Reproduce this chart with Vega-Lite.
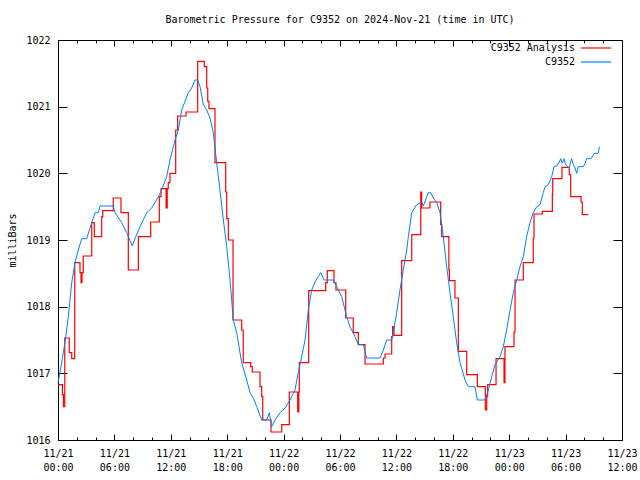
{
  "$schema": "https://vega.github.io/schema/vega-lite/v6.json",
  "width": 564,
  "height": 400,
  "autosize": {"type": "none"},
  "padding": {"left": 58, "top": 40, "right": 18, "bottom": 40},
  "background": "white",
  "title": {"text": "Barometric Pressure for C9352 on 2024-Nov-21 (time in UTC)", "font": "DejaVu Sans Mono", "fontSize": 10, "fontWeight": "normal", "anchor": "middle", "offset": 10, "color": "black"},
  "config": {
    "view": {"stroke": "black", "strokeWidth": 1},
    "axis": {"grid": false, "domain": false, "labelFont": "DejaVu Sans Mono", "labelFontSize": 10, "labelColor": "black", "tickColor": "black", "titleFont": "DejaVu Sans Mono", "titleFontSize": 10, "titleFontWeight": "normal", "titleColor": "black"}
  },
  "datasets": {
    "analysis": [
      {"t": 0, "p": 1016.83, "s": "C9352 Analysis"},
      {"t": 0.47, "p": 1016.68, "s": "C9352 Analysis"},
      {"t": 0.58, "p": 1016.5, "s": "C9352 Analysis"},
      {"t": 0.72, "p": 1017.53, "s": "C9352 Analysis"},
      {"t": 1.2, "p": 1017.31, "s": "C9352 Analysis"},
      {"t": 1.46, "p": 1017.22, "s": "C9352 Analysis"},
      {"t": 1.78, "p": 1018.66, "s": "C9352 Analysis"},
      {"t": 2.34, "p": 1018.51, "s": "C9352 Analysis"},
      {"t": 2.45, "p": 1018.36, "s": "C9352 Analysis"},
      {"t": 2.55, "p": 1018.51, "s": "C9352 Analysis"},
      {"t": 2.69, "p": 1018.76, "s": "C9352 Analysis"},
      {"t": 3.59, "p": 1019.26, "s": "C9352 Analysis"},
      {"t": 3.86, "p": 1019.05, "s": "C9352 Analysis"},
      {"t": 4.65, "p": 1019.35, "s": "C9352 Analysis"},
      {"t": 4.76, "p": 1019.44, "s": "C9352 Analysis"},
      {"t": 5.88, "p": 1019.63, "s": "C9352 Analysis"},
      {"t": 6.7, "p": 1019.41, "s": "C9352 Analysis"},
      {"t": 7.48, "p": 1018.55, "s": "C9352 Analysis"},
      {"t": 8.55, "p": 1019.05, "s": "C9352 Analysis"},
      {"t": 9.86, "p": 1019.27, "s": "C9352 Analysis"},
      {"t": 10.78, "p": 1019.65, "s": "C9352 Analysis"},
      {"t": 10.96, "p": 1019.77, "s": "C9352 Analysis"},
      {"t": 11.5, "p": 1019.48, "s": "C9352 Analysis"},
      {"t": 11.62, "p": 1019.77, "s": "C9352 Analysis"},
      {"t": 11.73, "p": 1019.86, "s": "C9352 Analysis"},
      {"t": 11.91, "p": 1020.0, "s": "C9352 Analysis"},
      {"t": 12.52, "p": 1020.65, "s": "C9352 Analysis"},
      {"t": 12.73, "p": 1020.86, "s": "C9352 Analysis"},
      {"t": 13.62, "p": 1020.92, "s": "C9352 Analysis"},
      {"t": 14.86, "p": 1021.68, "s": "C9352 Analysis"},
      {"t": 15.56, "p": 1021.6, "s": "C9352 Analysis"},
      {"t": 15.82, "p": 1021.28, "s": "C9352 Analysis"},
      {"t": 15.93, "p": 1021.08, "s": "C9352 Analysis"},
      {"t": 16.06, "p": 1020.97, "s": "C9352 Analysis"},
      {"t": 16.7, "p": 1020.16, "s": "C9352 Analysis"},
      {"t": 17.84, "p": 1019.72, "s": "C9352 Analysis"},
      {"t": 17.95, "p": 1019.32, "s": "C9352 Analysis"},
      {"t": 18.12, "p": 1019.0, "s": "C9352 Analysis"},
      {"t": 18.62, "p": 1017.8, "s": "C9352 Analysis"},
      {"t": 19.54, "p": 1017.65, "s": "C9352 Analysis"},
      {"t": 19.71, "p": 1017.16, "s": "C9352 Analysis"},
      {"t": 20.5, "p": 1017.1, "s": "C9352 Analysis"},
      {"t": 20.67, "p": 1017.02, "s": "C9352 Analysis"},
      {"t": 21.49, "p": 1016.8, "s": "C9352 Analysis"},
      {"t": 21.67, "p": 1016.65, "s": "C9352 Analysis"},
      {"t": 21.78, "p": 1016.3, "s": "C9352 Analysis"},
      {"t": 22.66, "p": 1016.12, "s": "C9352 Analysis"},
      {"t": 23.8, "p": 1016.23, "s": "C9352 Analysis"},
      {"t": 24.61, "p": 1016.72, "s": "C9352 Analysis"},
      {"t": 25.5, "p": 1016.42, "s": "C9352 Analysis"},
      {"t": 25.62, "p": 1016.72, "s": "C9352 Analysis"},
      {"t": 25.67, "p": 1017.16, "s": "C9352 Analysis"},
      {"t": 26.67, "p": 1018.24, "s": "C9352 Analysis"},
      {"t": 28.48, "p": 1018.36, "s": "C9352 Analysis"},
      {"t": 28.65, "p": 1018.54, "s": "C9352 Analysis"},
      {"t": 29.36, "p": 1018.36, "s": "C9352 Analysis"},
      {"t": 29.57, "p": 1018.25, "s": "C9352 Analysis"},
      {"t": 30.61, "p": 1017.83, "s": "C9352 Analysis"},
      {"t": 31.41, "p": 1017.61, "s": "C9352 Analysis"},
      {"t": 31.95, "p": 1017.43, "s": "C9352 Analysis"},
      {"t": 32.66, "p": 1017.14, "s": "C9352 Analysis"},
      {"t": 34.61, "p": 1017.23, "s": "C9352 Analysis"},
      {"t": 34.79, "p": 1017.29, "s": "C9352 Analysis"},
      {"t": 35.5, "p": 1017.55, "s": "C9352 Analysis"},
      {"t": 35.6, "p": 1017.7, "s": "C9352 Analysis"},
      {"t": 35.74, "p": 1017.57, "s": "C9352 Analysis"},
      {"t": 36.56, "p": 1018.69, "s": "C9352 Analysis"},
      {"t": 37.63, "p": 1019.08, "s": "C9352 Analysis"},
      {"t": 38.59, "p": 1019.72, "s": "C9352 Analysis"},
      {"t": 38.69, "p": 1019.48, "s": "C9352 Analysis"},
      {"t": 39.57, "p": 1019.57, "s": "C9352 Analysis"},
      {"t": 40.71, "p": 1019.23, "s": "C9352 Analysis"},
      {"t": 40.82, "p": 1019.05, "s": "C9352 Analysis"},
      {"t": 41.58, "p": 1018.55, "s": "C9352 Analysis"},
      {"t": 41.64, "p": 1018.39, "s": "C9352 Analysis"},
      {"t": 42.23, "p": 1018.13, "s": "C9352 Analysis"},
      {"t": 42.59, "p": 1017.33, "s": "C9352 Analysis"},
      {"t": 43.48, "p": 1016.98, "s": "C9352 Analysis"},
      {"t": 44.61, "p": 1016.8, "s": "C9352 Analysis"},
      {"t": 45.46, "p": 1016.45, "s": "C9352 Analysis"},
      {"t": 45.61, "p": 1016.65, "s": "C9352 Analysis"},
      {"t": 45.71, "p": 1016.83, "s": "C9352 Analysis"},
      {"t": 46.6, "p": 1017.22, "s": "C9352 Analysis"},
      {"t": 47.45, "p": 1016.86, "s": "C9352 Analysis"},
      {"t": 47.55, "p": 1017.4, "s": "C9352 Analysis"},
      {"t": 48.51, "p": 1017.62, "s": "C9352 Analysis"},
      {"t": 48.62, "p": 1018.4, "s": "C9352 Analysis"},
      {"t": 49.5, "p": 1018.66, "s": "C9352 Analysis"},
      {"t": 50.56, "p": 1019.03, "s": "C9352 Analysis"},
      {"t": 50.64, "p": 1019.39, "s": "C9352 Analysis"},
      {"t": 51.52, "p": 1019.43, "s": "C9352 Analysis"},
      {"t": 52.59, "p": 1019.68, "s": "C9352 Analysis"},
      {"t": 52.63, "p": 1019.92, "s": "C9352 Analysis"},
      {"t": 53.62, "p": 1020.09, "s": "C9352 Analysis"},
      {"t": 54.39, "p": 1019.98, "s": "C9352 Analysis"},
      {"t": 54.54, "p": 1019.65, "s": "C9352 Analysis"},
      {"t": 55.64, "p": 1019.57, "s": "C9352 Analysis"},
      {"t": 55.78, "p": 1019.38, "s": "C9352 Analysis"},
      {"t": 56.41, "p": 1019.38, "s": "C9352 Analysis"}
    ],
    "obs": [
      {"t": 0, "p": 1016.86, "s": "C9352"},
      {"t": 0.39, "p": 1017.16, "s": "C9352"},
      {"t": 0.74, "p": 1017.46, "s": "C9352"},
      {"t": 1.1, "p": 1017.85, "s": "C9352"},
      {"t": 1.46, "p": 1018.36, "s": "C9352"},
      {"t": 1.81, "p": 1018.66, "s": "C9352"},
      {"t": 2.16, "p": 1018.85, "s": "C9352"},
      {"t": 2.52, "p": 1019.02, "s": "C9352"},
      {"t": 3.05, "p": 1019.02, "s": "C9352"},
      {"t": 3.59, "p": 1019.26, "s": "C9352"},
      {"t": 3.94, "p": 1019.41, "s": "C9352"},
      {"t": 4.29, "p": 1019.41, "s": "C9352"},
      {"t": 4.47, "p": 1019.51, "s": "C9352"},
      {"t": 5.88, "p": 1019.51, "s": "C9352"},
      {"t": 6.06, "p": 1019.41, "s": "C9352"},
      {"t": 6.78, "p": 1019.26, "s": "C9352"},
      {"t": 7.31, "p": 1019.11, "s": "C9352"},
      {"t": 7.9, "p": 1018.91, "s": "C9352"},
      {"t": 8.19, "p": 1019.02, "s": "C9352"},
      {"t": 8.72, "p": 1019.2, "s": "C9352"},
      {"t": 9.44, "p": 1019.41, "s": "C9352"},
      {"t": 9.97, "p": 1019.48, "s": "C9352"},
      {"t": 10.32, "p": 1019.56, "s": "C9352"},
      {"t": 10.67, "p": 1019.65, "s": "C9352"},
      {"t": 11.03, "p": 1019.75, "s": "C9352"},
      {"t": 11.56, "p": 1019.95, "s": "C9352"},
      {"t": 11.91, "p": 1020.2, "s": "C9352"},
      {"t": 12.45, "p": 1020.5, "s": "C9352"},
      {"t": 12.8, "p": 1020.65, "s": "C9352"},
      {"t": 13.16, "p": 1020.95, "s": "C9352"},
      {"t": 13.51, "p": 1021.08, "s": "C9352"},
      {"t": 13.86, "p": 1021.21, "s": "C9352"},
      {"t": 14.22, "p": 1021.28, "s": "C9352"},
      {"t": 14.57, "p": 1021.4, "s": "C9352"},
      {"t": 14.86, "p": 1021.4, "s": "C9352"},
      {"t": 15.11, "p": 1021.3, "s": "C9352"},
      {"t": 15.46, "p": 1021.03, "s": "C9352"},
      {"t": 15.82, "p": 1020.95, "s": "C9352"},
      {"t": 16.17, "p": 1020.83, "s": "C9352"},
      {"t": 16.52, "p": 1020.61, "s": "C9352"},
      {"t": 16.88, "p": 1020.16, "s": "C9352"},
      {"t": 17.23, "p": 1019.75, "s": "C9352"},
      {"t": 17.59, "p": 1019.3, "s": "C9352"},
      {"t": 17.95, "p": 1018.9, "s": "C9352"},
      {"t": 18.3, "p": 1018.4, "s": "C9352"},
      {"t": 18.65, "p": 1017.8, "s": "C9352"},
      {"t": 19.01, "p": 1017.61, "s": "C9352"},
      {"t": 19.54, "p": 1017.16, "s": "C9352"},
      {"t": 20.07, "p": 1016.9, "s": "C9352"},
      {"t": 20.43, "p": 1016.71, "s": "C9352"},
      {"t": 20.78, "p": 1016.63, "s": "C9352"},
      {"t": 21.14, "p": 1016.5, "s": "C9352"},
      {"t": 21.67, "p": 1016.3, "s": "C9352"},
      {"t": 22.2, "p": 1016.3, "s": "C9352"},
      {"t": 22.48, "p": 1016.41, "s": "C9352"},
      {"t": 22.73, "p": 1016.2, "s": "C9352"},
      {"t": 23.09, "p": 1016.3, "s": "C9352"},
      {"t": 23.62, "p": 1016.41, "s": "C9352"},
      {"t": 24.15, "p": 1016.48, "s": "C9352"},
      {"t": 24.68, "p": 1016.6, "s": "C9352"},
      {"t": 25.21, "p": 1016.75, "s": "C9352"},
      {"t": 25.56, "p": 1017.01, "s": "C9352"},
      {"t": 25.93, "p": 1017.25, "s": "C9352"},
      {"t": 26.28, "p": 1017.5, "s": "C9352"},
      {"t": 26.63, "p": 1017.95, "s": "C9352"},
      {"t": 26.99, "p": 1018.25, "s": "C9352"},
      {"t": 27.34, "p": 1018.37, "s": "C9352"},
      {"t": 27.69, "p": 1018.45, "s": "C9352"},
      {"t": 27.95, "p": 1018.51, "s": "C9352"},
      {"t": 28.3, "p": 1018.4, "s": "C9352"},
      {"t": 29.29, "p": 1018.4, "s": "C9352"},
      {"t": 29.65, "p": 1018.3, "s": "C9352"},
      {"t": 30.18, "p": 1018.15, "s": "C9352"},
      {"t": 30.71, "p": 1017.85, "s": "C9352"},
      {"t": 31.06, "p": 1017.7, "s": "C9352"},
      {"t": 31.6, "p": 1017.55, "s": "C9352"},
      {"t": 31.95, "p": 1017.43, "s": "C9352"},
      {"t": 32.48, "p": 1017.43, "s": "C9352"},
      {"t": 32.84, "p": 1017.23, "s": "C9352"},
      {"t": 34.26, "p": 1017.23, "s": "C9352"},
      {"t": 34.61, "p": 1017.35, "s": "C9352"},
      {"t": 34.97, "p": 1017.5, "s": "C9352"},
      {"t": 35.5, "p": 1017.5, "s": "C9352"},
      {"t": 35.67, "p": 1017.61, "s": "C9352"},
      {"t": 36.03, "p": 1017.91, "s": "C9352"},
      {"t": 36.38, "p": 1018.25, "s": "C9352"},
      {"t": 36.73, "p": 1018.55, "s": "C9352"},
      {"t": 37.1, "p": 1018.85, "s": "C9352"},
      {"t": 37.27, "p": 1019.05, "s": "C9352"},
      {"t": 37.63, "p": 1019.41, "s": "C9352"},
      {"t": 38.16, "p": 1019.53, "s": "C9352"},
      {"t": 38.69, "p": 1019.57, "s": "C9352"},
      {"t": 38.86, "p": 1019.51, "s": "C9352"},
      {"t": 39.39, "p": 1019.71, "s": "C9352"},
      {"t": 39.65, "p": 1019.71, "s": "C9352"},
      {"t": 39.93, "p": 1019.63, "s": "C9352"},
      {"t": 40.29, "p": 1019.56, "s": "C9352"},
      {"t": 40.64, "p": 1019.41, "s": "C9352"},
      {"t": 40.99, "p": 1019.05, "s": "C9352"},
      {"t": 41.35, "p": 1018.6, "s": "C9352"},
      {"t": 41.7, "p": 1018.21, "s": "C9352"},
      {"t": 42.05, "p": 1017.85, "s": "C9352"},
      {"t": 42.41, "p": 1017.46, "s": "C9352"},
      {"t": 42.77, "p": 1017.16, "s": "C9352"},
      {"t": 43.3, "p": 1016.9, "s": "C9352"},
      {"t": 43.65, "p": 1016.8, "s": "C9352"},
      {"t": 44.36, "p": 1016.8, "s": "C9352"},
      {"t": 44.61, "p": 1016.6, "s": "C9352"},
      {"t": 45.43, "p": 1016.6, "s": "C9352"},
      {"t": 45.78, "p": 1016.75, "s": "C9352"},
      {"t": 46.14, "p": 1016.95, "s": "C9352"},
      {"t": 46.49, "p": 1017.13, "s": "C9352"},
      {"t": 47.02, "p": 1017.25, "s": "C9352"},
      {"t": 47.37, "p": 1017.4, "s": "C9352"},
      {"t": 47.73, "p": 1017.65, "s": "C9352"},
      {"t": 48.09, "p": 1017.95, "s": "C9352"},
      {"t": 48.44, "p": 1018.21, "s": "C9352"},
      {"t": 48.8, "p": 1018.4, "s": "C9352"},
      {"t": 49.15, "p": 1018.6, "s": "C9352"},
      {"t": 49.5, "p": 1018.75, "s": "C9352"},
      {"t": 49.86, "p": 1019.05, "s": "C9352"},
      {"t": 50.21, "p": 1019.26, "s": "C9352"},
      {"t": 50.56, "p": 1019.41, "s": "C9352"},
      {"t": 50.93, "p": 1019.5, "s": "C9352"},
      {"t": 51.28, "p": 1019.53, "s": "C9352"},
      {"t": 51.63, "p": 1019.71, "s": "C9352"},
      {"t": 51.81, "p": 1019.8, "s": "C9352"},
      {"t": 52.16, "p": 1019.83, "s": "C9352"},
      {"t": 52.52, "p": 1019.95, "s": "C9352"},
      {"t": 52.77, "p": 1020.1, "s": "C9352"},
      {"t": 53.05, "p": 1020.11, "s": "C9352"},
      {"t": 53.33, "p": 1020.17, "s": "C9352"},
      {"t": 53.48, "p": 1020.22, "s": "C9352"},
      {"t": 53.65, "p": 1020.15, "s": "C9352"},
      {"t": 53.83, "p": 1020.22, "s": "C9352"},
      {"t": 54.01, "p": 1020.13, "s": "C9352"},
      {"t": 54.39, "p": 1020.08, "s": "C9352"},
      {"t": 54.54, "p": 1020.17, "s": "C9352"},
      {"t": 54.65, "p": 1020.22, "s": "C9352"},
      {"t": 54.82, "p": 1020.13, "s": "C9352"},
      {"t": 55.0, "p": 1020.08, "s": "C9352"},
      {"t": 55.18, "p": 1020.0, "s": "C9352"},
      {"t": 55.35, "p": 1020.1, "s": "C9352"},
      {"t": 55.88, "p": 1020.1, "s": "C9352"},
      {"t": 56.06, "p": 1020.15, "s": "C9352"},
      {"t": 56.24, "p": 1020.22, "s": "C9352"},
      {"t": 56.7, "p": 1020.22, "s": "C9352"},
      {"t": 56.88, "p": 1020.26, "s": "C9352"},
      {"t": 57.05, "p": 1020.3, "s": "C9352"},
      {"t": 57.48, "p": 1020.3, "s": "C9352"},
      {"t": 57.59, "p": 1020.4, "s": "C9352"}
    ]
  },
  "layer": [
    {
      "data": {"name": "analysis"},
      "mark": {"type": "line", "interpolate": "step-after", "strokeWidth": 1.2},
      "encoding": {
        "x": {"field": "t", "type": "quantitative", "scale": {"domain": [0, 60], "nice": false, "zero": false},
          "axis": {"orient": "bottom", "title": null, "values": [0,2,4,6,8,10,12,14,16,18,20,22,24,26,28,30,32,34,36,38,40,42,44,46,48,50,52,54,56,58,60],
            "tickSize": {"condition": {"test": "datum.value % 6 == 0", "value": -6}, "value": -3},
            "labelPadding": 14,
            "labelExpr": "datum.value % 6 == 0 ? ['11/' + (21 + floor(datum.value / 24)), ((datum.value % 24) < 10 ? '0' : '') + (datum.value % 24) + ':00'] : ''",
            "labelLineHeight": 14, "labelAlign": "center", "labelFlush": false, "labelOverlap": false}},
        "y": {"field": "p", "type": "quantitative", "scale": {"domain": [1016, 1022], "nice": false, "zero": false},
          "axis": {"orient": "left", "title": "milliBars", "values": [1016,1017,1018,1019,1020,1021,1022], "tickSize": -9, "labelPadding": 17, "titlePadding": 8, "format": "d"}},
        "color": {"field": "s", "type": "nominal", "scale": {"domain": ["C9352 Analysis", "C9352"], "range": ["#ff0000", "#0080ff"]},
          "legend": {"orient": "none", "legendX": 532, "legendY": 2, "title": null, "symbolType": "M-3,0H3", "symbolSize": 100, "symbolStrokeWidth": 1.2, "labelAlign": "right", "labelOffset": -27, "labelFont": "DejaVu Sans Mono", "labelFontSize": 10, "labelColor": "black", "rowPadding": 3, "padding": 0}}
      }
    },
    {
      "data": {"name": "obs"},
      "mark": {"type": "line", "interpolate": "linear", "strokeWidth": 1},
      "encoding": {
        "x": {"field": "t", "type": "quantitative",
          "axis": {"orient": "top", "title": null, "labels": false, "values": [0,2,4,6,8,10,12,14,16,18,20,22,24,26,28,30,32,34,36,38,40,42,44,46,48,50,52,54,56,58,60],
            "tickSize": {"condition": {"test": "datum.value % 6 == 0", "value": -6}, "value": -3}}},
        "y": {"field": "p", "type": "quantitative",
          "axis": {"orient": "right", "title": null, "labels": false, "values": [1016,1017,1018,1019,1020,1021,1022], "tickSize": -9}},
        "color": {"field": "s", "type": "nominal"}
      }
    }
  ]
}
